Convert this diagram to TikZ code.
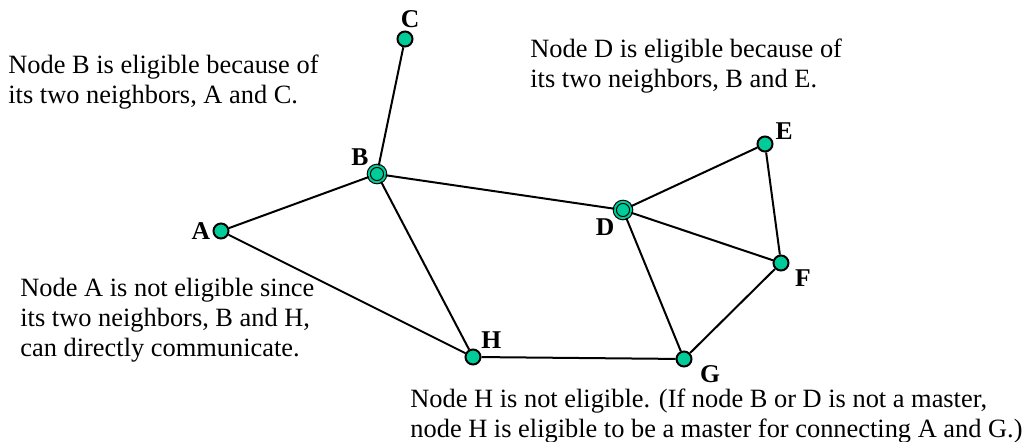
\documentclass[tikz,border=0pt]{standalone}
\usepackage{fontspec}
\setmainfont{Liberation Serif}
\usetikzlibrary{positioning}
\definecolor{mint}{HTML}{00CC99}
\tikzset{
  vertex/.style={circle,draw=black,fill=mint,line width=1pt,minimum size=7.5pt,inner sep=0pt,
    label distance=1pt},
  master/.style={vertex,line width=0.55pt,double=mint,double distance=1pt,minimum size=8.2pt},
  link/.style={line width=1pt,draw=black},
  note/.style={align=left,inner sep=0pt,font=\fontsize{13.2}{15}\selectfont},
  every label/.style={font=\fontsize{12.8}{14}\selectfont\bfseries,inner sep=1pt}
}
\begin{document}
\begin{tikzpicture}[x=0.5pt,y=-0.5pt]
  \useasboundingbox (0,0) rectangle (1023,442);
  % vertices
  \node[vertex,label={[xshift=2.5pt]above:C}] (c) at (405,39) {};
  \node[master,label={above left:B}] (b) at (377,174) {};
  \node[vertex,label={left:A}] (a) at (221,231) {};
  \node[master,label={below left:D}] (d) at (623,210) {};
  \node[vertex,label={[label distance=0pt]15:E}] (e) at (765,144) {};
  \node[vertex,label={[label distance=2pt]-20:F}] (f) at (781,263) {};
  \node[vertex,label={[label distance=3pt]-18:G}] (g) at (684,359) {};
  \node[vertex,label={above right:H}] (h) at (473,357) {};
  % links
  \draw[link] (c) -- (b);
  \draw[link] (b) -- (a);
  \draw[link] (b) -- (d);
  \draw[link] (b) -- (h);
  \draw[link] (a) -- (h);
  \draw[link] (d) -- (e);
  \draw[link] (d) -- (f);
  \draw[link] (d) -- (g);
  \draw[link] (e) -- (f);
  \draw[link] (f) -- (g);
  \draw[link] (h) -- (g);
  % notes
  \node[note,anchor=north west] (nb) at (8,55) {Node B is eligible because of\\its two neighbors, A and C.};
  \node[note,anchor=north west] (nd) at (530,39) {Node D is eligible because of\\its two neighbors, B and E.};
  \node[note,anchor=north west] (na) at (20,278) {Node A is not eligible since\\its two neighbors, B and H,\\can directly communicate.};
  \node[note,anchor=north west] (nh) at (410,389) {Node H is not eligible. (If node B or D is not a master,\\node H is eligible to be a master for connecting A and G.)};
\end{tikzpicture}
\end{document}
